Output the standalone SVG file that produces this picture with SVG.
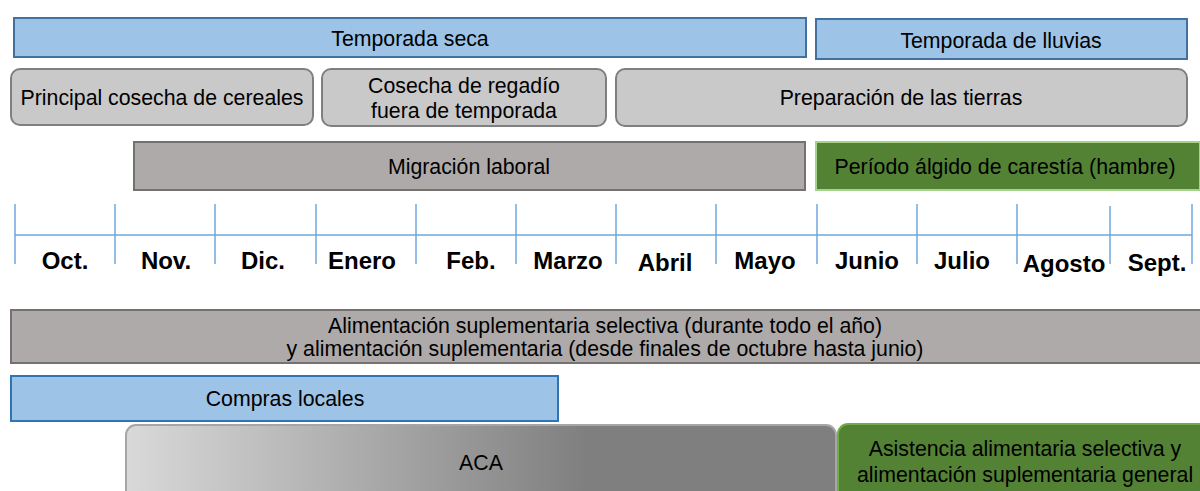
<svg xmlns="http://www.w3.org/2000/svg" width="1200" height="491" viewBox="0 0 1200 491">
<style>
text{font-family:"Liberation Sans",Arial,sans-serif;font-size:21.3px;fill:#000;text-anchor:middle}
.m{font-weight:bold;font-size:24px}
.blue{fill:#9dc3e6;stroke:#41719c;stroke-width:2}
.lg{fill:#c9c9c9;stroke:#7f7f7f;stroke-width:2}
.dg{fill:#aeaaaa;stroke:#767171;stroke-width:2}
.gr{fill:#548235;stroke:#a9d18e;stroke-width:2}
.tl{stroke:#6fa8dc;stroke-width:1.5;fill:none}
</style>
<defs>
<linearGradient id="aca" x1="0" y1="0" x2="1" y2="0">
<stop offset="0" stop-color="#d9d9d9"/>
<stop offset="0.65" stop-color="#7f7f7f"/>
<stop offset="1" stop-color="#7f7f7f"/>
</linearGradient>
</defs>
<g id="temporada-seca"><rect class="blue" x="14" y="18" width="792" height="39"/><text x="410" y="46">Temporada seca</text></g>
<g id="temporada-lluvias"><rect class="blue" x="816" y="19" width="371" height="40"/><text x="1001" y="48">Temporada de lluvias</text></g>
<g id="principal-cosecha"><rect class="lg" x="11" y="69" width="302" height="56" rx="9"/><text x="162" y="105">Principal cosecha de cereales</text></g>
<g id="cosecha-regadio"><rect class="lg" x="322" y="69" width="284" height="57" rx="9"/><text x="464" y="93">Cosecha de regadío</text><text x="464" y="118">fuera de temporada</text></g>
<g id="preparacion"><rect class="lg" x="616" y="69" width="571" height="57" rx="9"/><text x="901" y="105">Preparación de las tierras</text></g>
<g id="migracion"><rect class="dg" x="134" y="142" width="671" height="48"/><text x="469" y="174">Migración laboral</text></g>
<g id="periodo"><rect class="gr" x="816" y="142" width="384" height="48"/><text x="1005" y="174">Período álgido de carestía (hambre)</text></g>
<g id="connectors">
<path class="tl" d="M15 235H1192M15 204V264M115 204V264M215 204V264M316 204V264M416 204V264M516 204V264M616 204V264M716 204V264M817 204V264M917 204V264M1017 204V264M1110 206V264M1192 204V264"/>
</g>
<g id="months">
<text class="m" x="65" y="269">Oct.</text>
<text class="m" x="166" y="269">Nov.</text>
<text class="m" x="263" y="269">Dic.</text>
<text class="m" x="362" y="269">Enero</text>
<text class="m" x="471" y="269">Feb.</text>
<text class="m" x="568" y="269">Marzo</text>
<text class="m" x="665" y="271">Abril</text>
<text class="m" x="765" y="269">Mayo</text>
<text class="m" x="867" y="269">Junio</text>
<text class="m" x="962" y="269">Julio</text>
<text class="m" x="1064" y="272">Agosto</text>
<text class="m" x="1157" y="271">Sept.</text>
</g>
<g id="alimentacion"><rect class="dg" x="11" y="310" width="1191" height="53"/><text x="605" y="333">Alimentación suplementaria selectiva (durante todo el año)</text><text x="605" y="356">y alimentación suplementaria (desde finales de octubre hasta junio)</text></g>
<g id="compras"><rect fill="#9dc3e6" stroke="#2e75b6" stroke-width="2" x="11" y="376" width="547" height="45"/><text x="285" y="406">Compras locales</text></g>
<g id="aca"><rect fill="url(#aca)" stroke="#a6a6a6" stroke-width="2" x="126" y="425" width="710" height="80" rx="10"/><text x="481" y="470">ACA</text></g>
<g id="asistencia"><rect fill="#548235" stroke="#70ad47" stroke-width="2" x="838" y="424" width="380" height="80" rx="10"/><text x="1025" y="456">Asistencia alimentaria selectiva y</text><text x="1025" y="482">alimentación suplementaria general</text></g>
</svg>
